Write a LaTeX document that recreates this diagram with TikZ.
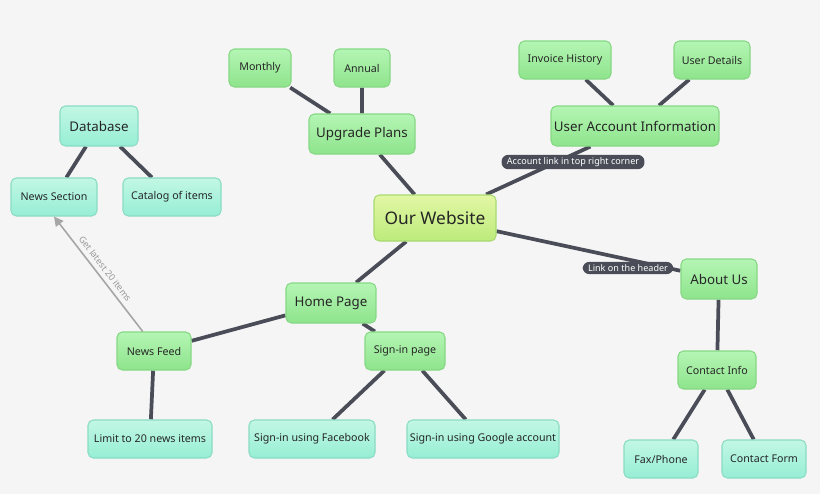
\documentclass[tikz,border=0pt]{standalone}
\usepackage{fontspec}
\setmainfont{Noto Sans}
\usetikzlibrary{arrows.meta}
\definecolor{bg}{HTML}{F5F5F5}
\definecolor{edge}{HTML}{4A4D57}
\definecolor{gtop}{HTML}{B4F5B4}
\definecolor{gbot}{HTML}{8EE48C}
\definecolor{gbord}{HTML}{86D884}
\definecolor{ttop}{HTML}{C2F7E4}
\definecolor{tbot}{HTML}{96EED4}
\definecolor{tbord}{HTML}{8ADCC4}
\definecolor{ctop}{HTML}{E2F7A4}
\definecolor{cbot}{HTML}{BDEB7C}
\definecolor{cbord}{HTML}{A8DA70}
\definecolor{pill}{HTML}{4A4D57}
\pgfdeclarelayer{bgl}
\pgfsetlayers{bgl,main}
\tikzset{
  x=0.75pt,y=-0.75pt,
  box/.style={draw=gbord,line width=0.8pt,rounded corners=4pt,top color=gtop,bottom color=gbot,
    inner sep=0pt,font=\fontsize{8}{10}\selectfont,text=black!85},
  big/.style={font=\fontsize{10}{12}\selectfont},
  tbox/.style={box,draw=tbord,top color=ttop,bottom color=tbot},
  cbox/.style={box,draw=cbord,top color=ctop,bottom color=cbot},
  con/.style={draw=edge,line width=2.8pt},
  lab/.style={fill=pill,text=white,rounded corners=5pt,inner xsep=4pt,inner ysep=2pt,font=\fontsize{6.8}{8}\selectfont},
}
\newcommand{\bx}[6]{\node[#1,minimum width=#5*0.75pt,minimum height=#6*0.75pt] (#2) at #3 {#4};}
\begin{document}
\begin{tikzpicture}
\useasboundingbox (0,0) rectangle (820,494);
\bx{cbox,font=\fontsize{13}{15}\selectfont}{web}{(435,218)}{Our Website}{122}{46}
\bx{box,big}{up}{(362,134)}{Upgrade Plans}{106}{40}
\bx{box}{mon}{(260,68)}{Monthly}{62}{38}
\bx{box}{ann}{(362,68)}{Annual}{56}{38}
\bx{box,big}{uai}{(635,126)}{User Account Information}{168}{40}
\bx{box}{inv}{(565,60)}{Invoice History}{92}{38}
\bx{box}{ud}{(712,60)}{User Details}{76}{38}
\bx{tbox,big}{db}{(99,126)}{Database}{78}{40}
\bx{tbox}{ns}{(54,197)}{News Section}{86}{38}
\bx{tbox}{cat}{(172,197)}{Catalog of items}{98}{38}
\bx{box,big}{about}{(719,279)}{About Us}{76}{40}
\bx{box}{ci}{(717,370)}{Contact Info}{78}{38}
\bx{tbox}{fax}{(661,459)}{Fax/Phone}{74}{38}
\bx{tbox}{cf}{(764,459)}{Contact Form}{84}{38}
\bx{box,big}{home}{(331,303)}{Home Page}{90}{40}
\bx{box}{nf}{(154,351)}{News Feed}{74}{38}
\bx{tbox}{lim}{(150,439)}{Limit to 20 news items}{124}{38}
\bx{box}{sp}{(405,351)}{Sign-in page}{80}{38}
\bx{tbox}{fb}{(312,439)}{Sign-in using Facebook}{126}{38}
\bx{tbox}{gg}{(483,439)}{Sign-in using Google account}{152}{38}
\begin{pgfonlayer}{bgl}
\fill[bg] (0,0) rectangle (820,494);
\path[con] (web) -- (up) (up) -- (mon) (up) -- (ann)
  (web) -- (uai) (uai) -- (inv) (uai) -- (ud)
  (db) -- (ns) (db) -- (cat)
  (web) -- (about) (about) -- (ci) (ci) -- (fax) (ci) -- (cf)
  (web) -- (home) (home) -- (nf) (nf) -- (lim) (home) -- (sp) (sp) -- (fb) (sp) -- (gg);
\end{pgfonlayer}
\node[lab] (l1) at (573,162) {Account link in top right corner};
\node[lab] (l2) at (628,268) {Link on the header};
\draw[draw=black!35,line width=1.2pt,-{Triangle[length=7pt,width=7pt]}] (nf.120) -- (ns.south)
  node[midway,sloped,above,text=black!40,font=\fontsize{6.8}{8}\selectfont] {Get latest 20 items};
\end{tikzpicture}
\end{document}
